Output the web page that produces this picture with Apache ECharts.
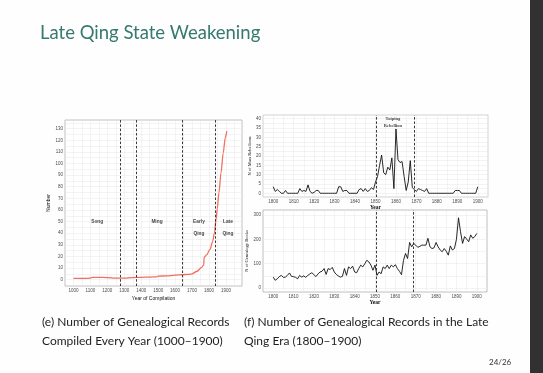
<!DOCTYPE html>
<html><head><meta charset="utf-8">
<script src="https://cdn.jsdelivr.net/npm/echarts@6/dist/echarts.min.js"></script>
<style>html,body{margin:0;padding:0;background:#fefefe;overflow:hidden}#c{width:543px;height:373px}</style>
</head><body><div id="c"></div>
<script>
// ---- Left chart: records compiled every year (1000-1900)
const recordYears  = [1000,1050,1100,1110,1150,1200,1250,1300,1350,1400,1450,1490,1500,1550,1600,1640,1680,1700,1727,1757,1769,1771,1787,1806,1822,1832,1842,1849,1859,1871,1884,1896,1905];
const recordCounts = [1,1,1.2,2,2,1.8,1.2,1.3,1.8,2,2.2,2.4,3,3.2,3.8,4.2,4.6,5,7,10.5,12.5,19,21.5,26,33,40,52,61,75,92,109,122,128];
const eraBoundaries = [1279,1368,1644,1840];
const eraLabels = [
  {name:'Song', x:1140, y:50},
  {name:'Ming', x:1493, y:50},
  {name:'Early', x:1741, y:50},
  {name:'Qing', x:1741, y:40},
  {name:'Late', x:1912, y:50},
  {name:'Qing', x:1912, y:40}
];
const leftXLabels = [1000,1100,1200,1300,1400,1500,1600,1700,1800,1900];
const leftXGrid = [1000,1050,1100,1150,1200,1250,1300,1350,1400,1450,1500,1550,1600,1650,1700,1750,1800,1850,1900,1950];
const leftYLabels = [0,10,20,30,40,50,60,70,80,90,100,110,120,130];
const leftYGrid = [0,5,10,15,20,25,30,35,40,45,50,55,60,65,70,75,80,85,90,95,100,105,110,115,120,125,130,135];

// ---- Right charts: 1800-1900
const years = [1800,1801,1802,1803,1804,1805,1806,1807,1808,1809,1810,1811,1812,1813,1814,1815,1816,1817,1818,1819,
1820,1821,1822,1823,1824,1825,1826,1827,1828,1829,1830,1831,1832,1833,1834,1835,1836,1837,1838,1839,
1840,1841,1842,1843,1844,1845,1846,1847,1848,1849,1850,1851,1852,1853,1854,1855,1856,1857,1858,1859,
1860,1861,1862,1863,1864,1865,1866,1867,1868,1869,1870,1871,1872,1873,1874,1875,1876,1877,1878,1879,
1880,1881,1882,1883,1884,1885,1886,1887,1888,1889,1890,1891,1892,1893,1894,1895,1896,1897,1898,1899,1900];
const rebellions = [3.5,1,2,1,0,0,1.5,0,0,0,0,0,0,2.5,1,1.5,1,4.5,1,0,
0.5,1.5,1.5,0,0,0,0,0,0,0,0,0,3.5,3.5,1,1.5,1.5,0,0,0,
0,0,2,2.5,1,2.5,1,1.5,3,2,6,9,15,20.5,11,10,14,12.5,19,2.5,
34.5,18,16.5,17,9,1.5,6,17.5,3,2,1,2.5,2,1.5,1,2.5,0,0,0,0,
0,0,0,0,0,0,0,0,0,1.5,1.5,1.5,0,0,0,0,0,0,0,0,3.5];
const books = [45,32,38,47,52,44,45,52,62,48,47,44,38,52,45,50,44,52,58,63,
55,47,58,66,69,80,56,80,76,85,66,56,50,45,48,80,52,87,80,90,
66,63,80,94,87,100,114,107,94,73,94,52,66,59,87,80,94,80,94,87,
96,80,69,55,114,142,121,187,169,183,176,167,171,176,176,176,204,169,162,165,
187,169,156,149,162,151,135,173,156,162,200,288,231,183,211,201,190,218,204,211,224];
const taipingBounds = [1850.5,1869];
const taipingText = [{name:'Taiping', x:1858.5, y:40.2},{name:'Rebellion', x:1858.5, y:36}];
const rightXLabels = [1800,1810,1820,1830,1840,1850,1860,1870,1880,1890,1900];
const rightXGrid = [1800,1805,1810,1815,1820,1825,1830,1835,1840,1845,1850,1855,1860,1865,1870,1875,1880,1885,1890,1895,1900];
const rebYLabels = [0,5,10,15,20,25,30,35,40];
const rebYGrid = [0,2.5,5,7.5,10,12.5,15,17.5,20,22.5,25,27.5,30,32.5,35,37.5,40];
const bookYLabels = [0,100,200,300];
const bookYGrid = [0,50,100,150,200,250,300];

const tickFont = {fontSize:4.5, color:'#4d4d4d', fontFamily:'Liberation Sans'};
const gridLine = {show:true, lineStyle:{color:'#e6e6e6', width:0.5}};
function pair(xs, ys){ return xs.map((x,i)=>[x, ys[i]]); }
function vAxis(idx, min, max, labels, grid, name, gap, extra){
  return Object.assign({type:'value', gridIndex:idx, min:min, max:max,
    axisLine:{show:false}, axisTick:{show:false, customValues:grid},
    axisLabel:Object.assign({customValues:labels, margin:2, formatter:function(v){return String(v);}}, tickFont),
    splitLine:gridLine, name:name, nameLocation:'middle', nameGap:gap,
    nameTextStyle:{fontSize:5, color:'#111', fontFamily:'Liberation Sans'}}, extra||{});
}
function dashLines(vals){
  return {symbol:'none', silent:true, animation:false, label:{show:false},
    lineStyle:{type:[2.5,1.8], color:'#222', width:0.9},
    data: vals.map(v=>({xAxis:v}))};
}
function textSeries(xi, yi, items, font){
  return {type:'scatter', xAxisIndex:xi, yAxisIndex:yi, symbolSize:1, itemStyle:{color:'transparent'},
    silent:true, data: items.map(d=>({name:d.name, value:[d.x,d.y]})),
    label:Object.assign({show:true, position:'inside', formatter:'{b}', color:'#111'}, font)};
}

const stripStart = 530/543;
const chart = echarts.init(document.getElementById('c'), null, {renderer:'canvas'});
chart.setOption({
  animation:false,
  backgroundColor:{type:'linear', x:0, y:0, x2:1, y2:0, colorStops:[
    {offset:0, color:'#fefefe'}, {offset:stripStart, color:'#fefefe'},
    {offset:stripStart, color:'#313131'}, {offset:1, color:'#313131'}]},
  title:{text:'Late Qing State Weakening', left:40, top:24, padding:0,
    textStyle:{fontFamily:'Lato', fontSize:18.5, fontWeight:'normal', color:'#35796f'}},
  grid:[
    {left:65, top:120, width:177, height:166, show:true, borderColor:'#b3b3b3', borderWidth:0.8, backgroundColor:'#fff'},
    {left:263, top:115, width:225, height:82, show:true, borderColor:'#c8c8c8', borderWidth:0.8, backgroundColor:'#fff'},
    {left:263, top:210, width:224, height:82, show:true, borderColor:'#b0b0b0', borderWidth:0.8, backgroundColor:'#fff'}
  ],
  xAxis:[
    vAxis(0, 950, 1995, leftXLabels, leftXGrid, 'Year of Compilation', 10),
    vAxis(1, 1795, 1905, rightXLabels, rightXGrid, 'Year', 7, {nameTextStyle:{fontSize:5.5, fontWeight:'bold', color:'#111', fontFamily:'Liberation Serif'}}),
    vAxis(2, 1795, 1905, rightXLabels, rightXGrid, 'Year', 7, {nameTextStyle:{fontSize:5.5, fontWeight:'bold', color:'#111', fontFamily:'Liberation Serif'}})
  ],
  yAxis:[
    vAxis(0, -5.5, 137.5, leftYLabels, leftYGrid, 'Number', 11),
    vAxis(1, -2, 42, rebYLabels, rebYGrid, 'N of Mass Rebellions', 8, {nameTextStyle:{fontSize:4.5, color:'#111', fontFamily:'Liberation Serif'}}),
    vAxis(2, -16, 320, bookYLabels, bookYGrid, 'N of Genealogy Books', 9, {nameTextStyle:{fontSize:4.5, color:'#111', fontFamily:'Liberation Serif'}})
  ],
  series:[
    {type:'line', xAxisIndex:0, yAxisIndex:0, data:pair(recordYears, recordCounts), showSymbol:false,
     smooth:0.3, smoothMonotone:'x', lineStyle:{color:'#f0705f', width:1.3}, markLine:dashLines(eraBoundaries)},
    textSeries(0, 0, eraLabels, {fontSize:4.8, fontWeight:'bold', fontFamily:'Liberation Sans'}),
    {type:'line', xAxisIndex:1, yAxisIndex:1, data:pair(years, rebellions), showSymbol:false,
     lineStyle:{color:'#111', width:0.9}, markLine:dashLines(taipingBounds)},
    textSeries(1, 1, taipingText, {fontSize:4.5, fontWeight:'bold', fontFamily:'Liberation Serif'}),
    {type:'line', xAxisIndex:2, yAxisIndex:2, data:pair(years, books), showSymbol:false,
     lineStyle:{color:'#111', width:0.9}, markLine:dashLines(taipingBounds)}
  ],
  graphic:[
    {type:'text', left:42, top:313, style:{text:'(e) Number of Genealogical Records\nCompiled Every Year (1000\u20131900)',
      fontFamily:'Lato', fontSize:12, lineHeight:19, fill:'#1e1e1e'}},
    {type:'text', left:244, top:313, style:{text:'(f) Number of Genealogical Records in the Late\nQing Era (1800\u20131900)',
      fontFamily:'Lato', fontSize:12, lineHeight:19, fill:'#1e1e1e'}},
    {type:'text', left:489, top:358, style:{text:'24/26', fontFamily:'Lato', fontSize:8, fill:'#333'}}
  ]
});
</script></body></html>
